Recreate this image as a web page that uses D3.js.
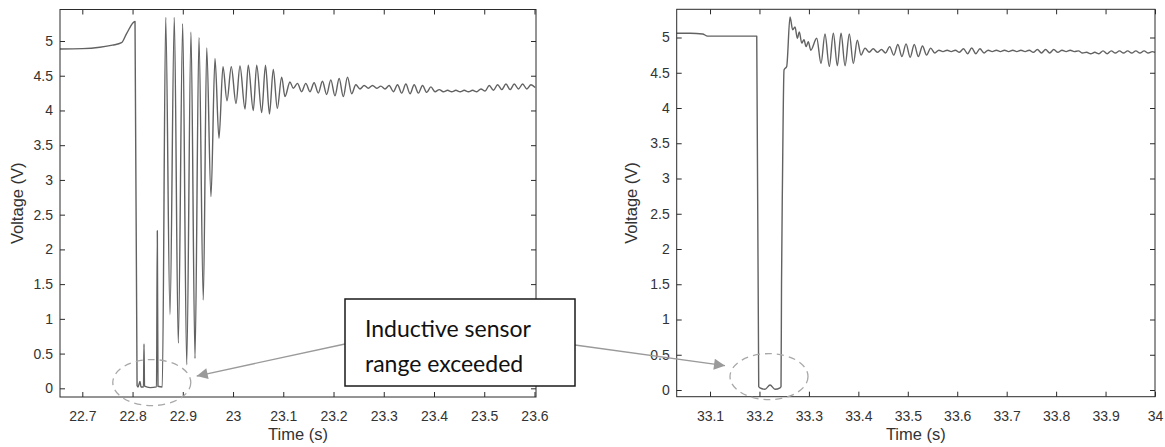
<!DOCTYPE html>
<html>
<head>
<meta charset="utf-8">
<script src="https://cdn.jsdelivr.net/npm/d3@7"></script>
<style>
  body { margin: 0; background: #fff; }
  svg { display: block; font-family: "Liberation Sans", Arial, sans-serif; }
</style>
</head>
<body>
<svg id="chart" width="1165" height="447"></svg>
<script>
// first event (left panel): peaks / troughs
const leftTime = [
  22.6556, 22.700, 22.735, 22.760, 22.778, 22.7884, 22.8049, 22.8090, 22.8110, 22.8148,
  22.8168, 22.8218, 22.8228, 22.8238, 22.8350, 22.8477, 22.8493, 22.8506, 22.8592, 22.8660,
  22.8745, 22.8831, 22.8910, 22.8998, 22.9078, 22.9163, 22.9243, 22.9322, 22.9408, 22.9476,
  22.9561, 22.9641, 22.9720, 22.9800, 22.9880, 22.9965, 23.0059, 23.0138, 23.0238, 23.0303,
  23.0403, 23.0471, 23.0570, 23.0646, 23.0725, 23.0801, 23.0881, 23.0968, 23.1034, 23.1133,
  23.1199, 23.1282, 23.1365, 23.1448, 23.1531, 23.1614, 23.1697, 23.1780, 23.1863, 23.1946,
  23.2029, 23.2112, 23.2195, 23.2278, 23.2361, 23.2444, 23.2527, 23.2610, 23.2693, 23.2776,
  23.2859, 23.2942, 23.3025, 23.3108, 23.3191, 23.3274, 23.3357, 23.3440, 23.3523, 23.3606,
  23.3689, 23.3772, 23.3855, 23.3938, 23.4021, 23.4104, 23.4187, 23.4270, 23.4353, 23.4436,
  23.4519, 23.4602, 23.4685, 23.4768, 23.4851, 23.4934, 23.5017, 23.5100, 23.5183, 23.5266,
  23.5349, 23.5432, 23.5515, 23.5598, 23.5681, 23.5764, 23.5847, 23.5930, 23.6013
];
const leftVolt = [
  4.885, 4.89, 4.91, 4.94, 4.975, 5.11, 5.28, 0.04, 0.02, 0.10,
  0.02, 0.02, 0.64, 0.03, 0.01, 0.02, 2.27, 0.03, 0.02, 5.34,
  1.06, 5.34, 0.65, 5.25, 0.34, 5.13, 0.43, 5.05, 1.27, 4.90,
  2.76, 4.75, 3.60, 4.63, 4.14, 4.63, 4.10, 4.64, 4.02, 4.65,
  4.00, 4.65, 3.97, 4.65, 3.95, 4.59, 4.03, 4.48, 4.20, 4.41,
  4.32, 4.39, 4.27, 4.39, 4.27, 4.40, 4.25, 4.42, 4.23, 4.44,
  4.21, 4.46, 4.20, 4.48, 4.24, 4.37, 4.31, 4.36, 4.32, 4.36,
  4.32, 4.35, 4.31, 4.36, 4.27, 4.37, 4.25, 4.38, 4.24, 4.37,
  4.25, 4.36, 4.26, 4.34, 4.27, 4.30, 4.27, 4.29, 4.27, 4.29,
  4.27, 4.29, 4.27, 4.29, 4.27, 4.31, 4.28, 4.36, 4.29, 4.37,
  4.30, 4.38, 4.30, 4.38, 4.31, 4.38, 4.31, 4.37, 4.33
];

// second event (right panel)
const rightTime = [
  33.0326, 33.0600, 33.0850, 33.0950, 33.1945, 33.1985, 33.2011, 33.2112, 33.2214, 33.2315,
  33.2416, 33.2436, 33.2446, 33.2466, 33.2497, 33.2551, 33.2618, 33.2672, 33.2719, 33.2766,
  33.2806, 33.2855, 33.2901, 33.2942, 33.2988, 33.3037, 33.3158, 33.3245, 33.3325, 33.3413,
  33.3494, 33.3575, 33.3650, 33.3731, 33.3818, 33.3898, 33.3979, 33.4054, 33.4135, 33.4218,
  33.4301, 33.4384, 33.4467, 33.4550, 33.4633, 33.4716, 33.4799, 33.4882, 33.4965, 33.5048,
  33.5131, 33.5214, 33.5297, 33.5380, 33.5463, 33.5546, 33.5629, 33.5712, 33.5795, 33.5878,
  33.5961, 33.6044, 33.6127, 33.6210, 33.6293, 33.6376, 33.6459, 33.6542, 33.6625, 33.6708,
  33.6791, 33.6874, 33.6957, 33.7040, 33.7123, 33.7206, 33.7289, 33.7372, 33.7455, 33.7538,
  33.7621, 33.7704, 33.7787, 33.7870, 33.7953, 33.8036, 33.8119, 33.8202, 33.8285, 33.8368,
  33.8451, 33.8534, 33.8617, 33.8700, 33.8783, 33.8866, 33.8949, 33.9032, 33.9115, 33.9198,
  33.9281, 33.9364, 33.9447, 33.9530, 33.9613, 33.9696, 33.9779, 33.9862, 33.9945, 34.0000
];
const rightVolt = [
  5.06, 5.06, 5.05, 5.02, 5.02, 0.05, 0.03, 0.01, 0.07, 0.01,
  0.03, 0.05, 1.50, 3.00, 4.54, 4.59, 5.29, 5.11, 5.15, 4.99,
  5.08, 4.92, 4.97, 4.87, 4.94, 4.82, 4.99, 4.63, 5.05, 4.59,
  5.06, 4.60, 5.06, 4.60, 5.05, 4.63, 4.96, 4.75, 4.85, 4.79,
  4.84, 4.79, 4.83, 4.78, 4.87, 4.75, 4.90, 4.73, 4.91, 4.72,
  4.90, 4.73, 4.88, 4.75, 4.85, 4.78, 4.82, 4.80, 4.82, 4.80,
  4.82, 4.79, 4.84, 4.77, 4.85, 4.77, 4.84, 4.78, 4.82, 4.80,
  4.82, 4.80, 4.82, 4.80, 4.82, 4.80, 4.82, 4.80, 4.82, 4.79,
  4.83, 4.78, 4.83, 4.78, 4.83, 4.79, 4.82, 4.80, 4.82, 4.80,
  4.81, 4.78, 4.79, 4.77, 4.79, 4.77, 4.81, 4.77, 4.81, 4.78,
  4.81, 4.78, 4.81, 4.78, 4.81, 4.78, 4.81, 4.78, 4.80, 4.79
];

const leftXTicks = [22.7, 22.8, 22.9, 23.0, 23.1, 23.2, 23.3, 23.4, 23.5, 23.6];
const leftXLabels = ["22.7", "22.8", "22.9", "23", "23.1", "23.2", "23.3", "23.4", "23.5", "23.6"];
const rightXTicks = [33.1, 33.2, 33.3, 33.4, 33.5, 33.6, 33.7, 33.8, 33.9, 34.0];
const rightXLabels = ["33.1", "33.2", "33.3", "33.4", "33.5", "33.6", "33.7", "33.8", "33.9", "34"];
const voltTicks = [0, 0.5, 1, 1.5, 2, 2.5, 3, 3.5, 4, 4.5, 5];
const voltLabels = ["0", "0.5", "1", "1.5", "2", "2.5", "3", "3.5", "4", "4.5", "5"];

// annotation: where the sensor saturates (data units)
const noteLines = ["Inductive sensor", "range exceeded"];
const leftRing = [22.8383, 0.083];
const rightRing = [33.2193, 0.19];
const leftArrowTip = [22.9277, 0.177];
const rightArrowTip = [33.1303, 0.345];

const svg = d3.select("#chart");
const axisColor = "#2b2b2b";
const textColor = "#333";

const defs = svg.append("defs");
defs.append("marker")
  .attr("id", "head")
  .attr("viewBox", "0 0 10 10")
  .attr("refX", 10)
  .attr("refY", 5)
  .attr("markerWidth", 15)
  .attr("markerHeight", 11)
  .attr("markerUnits", "userSpaceOnUse")
  .attr("orient", "auto")
  .append("path")
  .attr("d", "M0,0 L10,5 L0,10 Z")
  .attr("fill", "#9a9a9a");

function panel(cfg) {
  const x = d3.scaleLinear().domain(cfg.xDomain).range([cfg.left, cfg.right]);
  const y = d3.scaleLinear().domain(cfg.yDomain).range([cfg.bottom, cfg.top]);
  const g = svg.append("g");

  g.append("rect")
    .attr("x", cfg.left).attr("y", cfg.top)
    .attr("width", cfg.right - cfg.left).attr("height", cfg.bottom - cfg.top)
    .attr("fill", "#fff");

  const line = d3.line()
    .x(d => x(d[0]))
    .y(d => y(d[1]))
    .curve(d3.curveMonotoneX);

  g.append("path")
    .datum(d3.zip(cfg.time, cfg.volt))
    .attr("d", line)
    .attr("fill", "none")
    .attr("stroke", "#626262")
    .attr("stroke-width", 1.4)
    .attr("stroke-linejoin", "round");

  // MATLAB style box with inward ticks on every side
  const xb = g.append("g")
    .attr("transform", `translate(0,${cfg.bottom})`)
    .call(d3.axisBottom(x).tickValues(cfg.xTicks).tickFormat((d, i) => cfg.xLabels[i]).tickSizeInner(-5).tickSizeOuter(0));
  xb.selectAll("text").attr("y", 24).attr("dy", 0);

  const yl = g.append("g")
    .attr("transform", `translate(${cfg.left},0)`)
    .call(d3.axisLeft(y).tickValues(voltTicks).tickFormat((d, i) => voltLabels[i]).tickSizeInner(-5).tickSizeOuter(0));
  yl.selectAll("text").attr("x", -7);

  g.append("g")
    .attr("transform", `translate(0,${cfg.top})`)
    .call(d3.axisTop(x).tickValues(cfg.xTicks).tickFormat("").tickSizeInner(-5).tickSizeOuter(0));
  g.append("g")
    .attr("transform", `translate(${cfg.right},0)`)
    .call(d3.axisRight(y).tickValues(voltTicks).tickFormat("").tickSizeInner(-5).tickSizeOuter(0));

  g.selectAll(".domain").remove();
  g.selectAll(".tick line").attr("stroke", axisColor);
  g.selectAll(".tick text")
    .attr("fill", textColor)
    .style("font-size", "14px")
    .style("font-family", "'Liberation Sans', Arial, sans-serif");

  g.append("rect")
    .attr("x", cfg.left).attr("y", cfg.top)
    .attr("width", cfg.right - cfg.left).attr("height", cfg.bottom - cfg.top)
    .attr("fill", "none")
    .attr("stroke", axisColor)
    .attr("stroke-width", 1);

  g.append("text")
    .attr("x", (cfg.left + cfg.right) / 2)
    .attr("y", 440)
    .attr("text-anchor", "middle")
    .attr("fill", textColor)
    .style("font-size", "16.5px")
    .text("Time (s)");

  g.append("text")
    .attr("transform", `translate(${cfg.labelX},${(cfg.top + cfg.bottom) / 2}) rotate(-90)`)
    .attr("text-anchor", "middle")
    .attr("fill", textColor)
    .style("font-size", "16.5px")
    .text("Voltage (V)");

  return { x, y };
}

const L = panel({
  time: leftTime, volt: leftVolt,
  xDomain: [22.6556, 23.603], yDomain: [-0.125, 5.4535],
  left: 60, right: 536, top: 9.5, bottom: 397,
  xTicks: leftXTicks, xLabels: leftXLabels, labelX: 23
});

const R = panel({
  time: rightTime, volt: rightVolt,
  xDomain: [33.0326, 34.0], yDomain: [-0.095, 5.40],
  left: 676.7, right: 1155, top: 9.3, bottom: 396.7,
  xTicks: rightXTicks, xLabels: rightXLabels, labelX: 637
});

// dashed rings around the saturated part
const notes = svg.append("g");
[[L, leftRing], [R, rightRing]].forEach(([p, c]) => {
  notes.append("ellipse")
    .attr("cx", p.x(c[0]))
    .attr("cy", p.y(c[1]))
    .attr("rx", 39)
    .attr("ry", 23)
    .attr("fill", "none")
    .attr("stroke", "#a8a8a8")
    .attr("stroke-width", 1.3)
    .attr("stroke-dasharray", "7,5");
});

// text box
const box = { x: 345, y: 299, w: 230, h: 87 };
notes.append("line")
  .attr("x1", box.x).attr("y1", 344)
  .attr("x2", L.x(leftArrowTip[0])).attr("y2", L.y(leftArrowTip[1]))
  .attr("stroke", "#9a9a9a").attr("stroke-width", 1.3)
  .attr("marker-end", "url(#head)");
notes.append("line")
  .attr("x1", box.x + box.w).attr("y1", 345)
  .attr("x2", R.x(rightArrowTip[0])).attr("y2", R.y(rightArrowTip[1]))
  .attr("stroke", "#9a9a9a").attr("stroke-width", 1.3)
  .attr("marker-end", "url(#head)");

notes.append("rect")
  .attr("x", box.x).attr("y", box.y)
  .attr("width", box.w).attr("height", box.h)
  .attr("fill", "#fff")
  .attr("stroke", "#1a1a1a")
  .attr("stroke-width", 1.5);

notes.selectAll("text.note")
  .data(noteLines)
  .join("text")
  .attr("class", "note")
  .attr("x", box.x + 20)
  .attr("y", (d, i) => 337 + i * 35)
  .attr("fill", "#111")
  .style("font-family", "Lato, 'Open Sans', sans-serif")
  .style("font-size", "23px")
  .text(d => d);
</script>
</body>
</html>
